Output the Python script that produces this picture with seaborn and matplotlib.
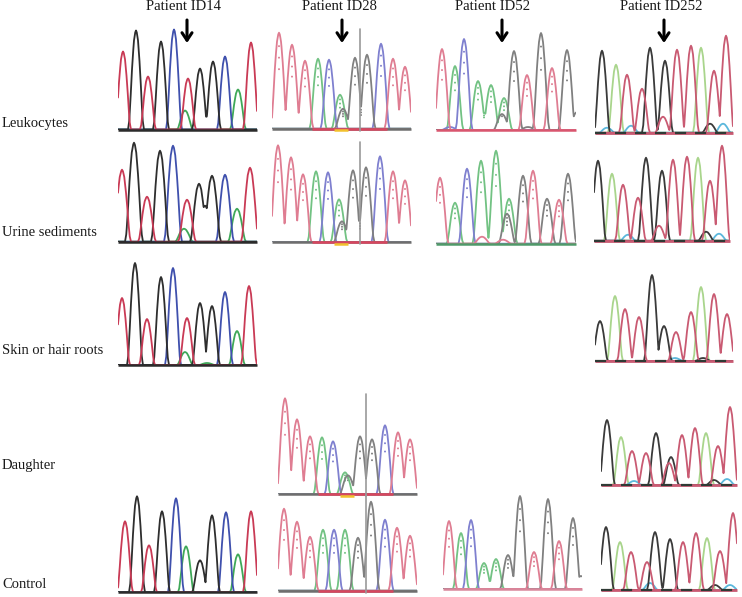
import numpy as np
import pandas as pd
import matplotlib
matplotlib.use("Agg")
import matplotlib.pyplot as plt
import seaborn as sns

# peak positions (scan offset), peak heights and called bases for every trace
ID14_LEUK_POS = [5, 18, 30, 43, 56, 70, 67, 82, 89, 95, 107, 120, 133]
ID14_LEUK_HT = [78, 99, 53, 88, 100, 51, 19, 61, 13, 68, 73, 40, 87]
ID14_LEUK_BASES = "TGTGCTAGGGCAT"

ID14_URINE_POS = [4, 16, 29, 42, 55, 69, 66, 81, 87, 94, 107, 119, 132]
ID14_URINE_HT = [72, 99, 45, 91, 96, 42, 13, 58, 36, 66, 67, 33, 74]
ID14_URINE_BASES = "TGTGCTAGGGCAT"

ID14_SKIN_POS = [4, 17, 29, 43, 55, 69, 67, 82, 88, 94, 107, 119, 131, 89]
ID14_SKIN_HT = [67, 102, 46, 88, 97, 47, 13, 62, 12, 59, 73, 34, 79, 2]
ID14_SKIN_BASES = "TGTGCTAGGGCATA"

ID14_CTRL_POS = [7, 19, 31, 44, 58, 68, 82, 94, 108, 120, 133]
ID14_CTRL_HT = [71, 96, 47, 81, 94, 46, 32, 77, 80, 38, 81]
ID14_CTRL_BASES = "TGTGCAGGCAT"

ID28_LEUK_POS = [7, 20, 33, 46, 57, 68, 71, 83, 89, 95, 109, 121, 133]
ID28_LEUK_HT = [96, 84, 68, 70, 69, 34, 20, 71, 22, 74, 85, 70, 62]
ID28_LEUK_BASES = "TTTACAGGGGCTT"

ID28_URINE_POS = [6, 19, 31, 44, 56, 67, 70, 81, 88, 94, 108, 121, 133]
ID28_URINE_HT = [97, 85, 68, 71, 70, 43, 21, 72, 22, 75, 86, 71, 62]
ID28_URINE_BASES = "TTTACAGGGGCTT"

ID28_DAUGHTER_POS = [7, 19, 32, 44, 55, 67, 70, 82, 88, 94, 107, 120, 132]
ID28_DAUGHTER_HT = [96, 75, 58, 57, 53, 22, 19, 58, 8, 55, 69, 62, 55]
ID28_DAUGHTER_BASES = "TTTACAGGGGCTT"

ID28_CTRL_POS = [6, 19, 32, 45, 56, 67, 80, 93, 107, 119, 132]
ID28_CTRL_HT = [82, 69, 54, 61, 61, 61, 53, 89, 71, 63, 55]
ID28_CTRL_BASES = "TTTACAGGCTT"

ID52_LEUK_POS = [6, 19, 28, 42, 48, 55, 68, 66, 78, 91, 105, 116, 131, 141, 14, 92]
ID52_LEUK_HT = [81, 64, 91, 49, 17, 45, 32, 16, 79, 55, 97, 62, 80, 18, 3, 3]
ID52_LEUK_BASES = "TACAAAAGGTGTGGCG"

ID52_URINE_POS = [4, 19, 31, 45, 60, 73, 71, 87, 97, 111, 123, 132, 46, 67]
ID52_URINE_HT = [66, 41, 75, 83, 93, 45, 30, 68, 73, 45, 44, 70, 7, 4]
ID52_URINE_BASES = "TACAAAGGTGTGTT"

ID52_CTRL_POS = [6, 18, 28, 41, 47, 53, 65, 71, 77, 91, 105, 116, 130, 138]
ID52_CTRL_HT = [68, 56, 69, 26, 8, 30, 34, 13, 93, 37, 90, 48, 71, 13]
ID52_CTRL_BASES = "TACAAAGGGTGTGG"

ID252_LEUK_POS = [7, 21, 32, 47, 55, 70, 68, 82, 96, 106, 119, 125, 131, 36, 115, 128, 12]
ID252_LEUK_HT = [82, 68, 58, 44, 85, 72, 16, 83, 87, 85, 62, 14, 97, 7, 9, 9, 5]
ID252_LEUK_BASES = "GATTGGTTTATTTCGCC"

ID252_URINE_POS = [4, 18, 29, 44, 52, 68, 65, 79, 93, 104, 116, 122, 128, 34, 112, 125]
ID252_URINE_HT = [80, 67, 56, 43, 83, 70, 15, 81, 84, 83, 60, 14, 95, 6, 9, 7]
ID252_URINE_BASES = "GATTGGTTTATTTCGC"

ID252_SKIN_POS = [5, 20, 30, 44, 57, 69, 81, 96, 106, 119, 132, 80, 108]
ID252_SKIN_HT = [40, 65, 52, 44, 86, 35, 29, 49, 74, 67, 47, 3, 3]
ID252_SKIN_BASES = "GATTGGTTATTCG"

ID252_DAUGHTER_POS = [6, 20, 31, 45, 55, 70, 68, 81, 94, 105, 117, 129, 33, 113, 126]
ID252_DAUGHTER_HT = [65, 48, 34, 32, 52, 28, 22, 50, 57, 52, 39, 78, 4, 5, 6]
ID252_DAUGHTER_BASES = "GATTGGTTTATTCGC"

ID252_CTRL_POS = [5, 19, 30, 46, 54, 69, 82, 95, 106, 119, 132, 49, 114, 129]
ID252_CTRL_HT = [63, 48, 38, 28, 58, 51, 48, 57, 52, 39, 77, 7, 5, 5]
ID252_CTRL_BASES = "GATTGGTTATTCGC"

PATIENTS = ["Patient ID14", "Patient ID28", "Patient ID52", "Patient ID252"]
SAMPLES = ["Leukocytes", "Urine sediments", "Skin or hair roots", "Daughter", "Control"]

# one peak, unit height, unit half width
PEAK_OFFSET = [-1, -.85, -.7, -.55, -.4, -.25, -.1, 0, .1, .25, .4, .55, .7, .85, 1]
PEAK_SHAPE = [0, .08, .28, .54, .74, .9, .98, 1, .98, .9, .74, .54, .28, .08, 0]

W, H = 742, 597
PAL_DARK = {"T": "#c93a55", "G": "#2e2e2e", "C": "#3f50ad", "A": "#3fa858"}
PAL_PALE = {"T": "#df7d92", "G": "#808080", "C": "#7f80cf", "A": "#72c283"}
PAL_SOFT = {"T": "#c95a72", "G": "#3a3a3a", "C": "#5bb8dc", "A": "#a9d58c"}

# trace, left, baseline px, width, half width, palette, baseline colour, cursor top
panels = [
    (ID14_LEUK_POS, ID14_LEUK_HT, ID14_LEUK_BASES, 118, 129.5, 139, 8, PAL_DARK, "#2b2b2b", None),
    (ID14_URINE_POS, ID14_URINE_HT, ID14_URINE_BASES, 118, 241.7, 139, 9, PAL_DARK, "#2b2b2b", None),
    (ID14_SKIN_POS, ID14_SKIN_HT, ID14_SKIN_BASES, 118, 365, 139, 8, PAL_DARK, "#2b2b2b", None),
    (ID14_CTRL_POS, ID14_CTRL_HT, ID14_CTRL_BASES, 118, 592.3, 139, 8, PAL_DARK, "#2b2b2b", None),
    (ID28_LEUK_POS, ID28_LEUK_HT, ID28_LEUK_BASES, 272, 128.7, 139, 8.5, PAL_PALE, "seq", 100),
    (ID28_URINE_POS, ID28_URINE_HT, ID28_URINE_BASES, 272, 242.3, 139, 8.5, PAL_PALE, "seq", 100),
    (ID28_DAUGHTER_POS, ID28_DAUGHTER_HT, ID28_DAUGHTER_BASES, 278, 494.3, 139, 8.5, PAL_PALE, "seq", 100),
    (ID28_CTRL_POS, ID28_CTRL_HT, ID28_CTRL_BASES, 278, 590.7, 139, 8.5, PAL_PALE, "red", 96),
    (ID52_LEUK_POS, ID52_LEUK_HT, ID52_LEUK_BASES, 436, 130, 140, 8.5, PAL_PALE, "#d9566f", None),
    (ID52_URINE_POS, ID52_URINE_HT, ID52_URINE_BASES, 436, 243.7, 140, 8.5, PAL_PALE, "#4f9a6a", None),
    (ID52_CTRL_POS, ID52_CTRL_HT, ID52_CTRL_BASES, 443, 589, 139, 8, PAL_PALE, "#d9869a", None),
    (ID252_LEUK_POS, ID252_LEUK_HT, ID252_LEUK_BASES, 595, 132.7, 138, 8, PAL_SOFT, "noise", None),
    (ID252_URINE_POS, ID252_URINE_HT, ID252_URINE_BASES, 594, 240.7, 136, 8, PAL_SOFT, "noise", None),
    (ID252_SKIN_POS, ID252_SKIN_HT, ID252_SKIN_BASES, 595, 361, 138, 8, PAL_SOFT, "noise", None),
    (ID252_DAUGHTER_POS, ID252_DAUGHTER_HT, ID252_DAUGHTER_BASES, 601, 485, 136, 8, PAL_SOFT, "noise", None),
    (ID252_CTRL_POS, ID252_CTRL_HT, ID252_CTRL_BASES, 601, 590, 136, 8, PAL_SOFT, "noise", None),
]


def base_traces(pos, ht, bases, width, half):
    # same-base peaks merge into one trace, like a real electropherogram channel
    grid = np.arange(0, width + .25, .25)
    rows = []
    for b in sorted(set(bases)):
        curves = [np.interp(grid, p + np.array(PEAK_OFFSET) * half, h * np.array(PEAK_SHAPE))
                  for p, h, c in zip(pos, ht, bases) if c == b]
        rows.append(pd.DataFrame({"scan": grid, "signal": np.max(curves, axis=0), "base": b}))
    return pd.concat(rows, ignore_index=True)


sns.set_theme(style="white")
plt.rcParams["font.family"] = ["Liberation Serif", "DejaVu Serif"]

fig = plt.figure(figsize=(W / 100, H / 100), dpi=100)

for pos, ht, bases, left, base_y, width, half, pal, base_col, cursor in panels:
    ax = fig.add_axes([left / W, 1 - base_y / H, width / W, 112 / H])
    ax.patch.set_alpha(0)
    df = base_traces(pos, ht, bases, width, half)
    sns.lineplot(data=df, x="scan", y="signal", hue="base", palette=pal,
                 estimator=None, sort=False, legend=False, linewidth=1.3, ax=ax)
    if pal is PAL_PALE:
        # dotted base-call marks inside the peaks
        dots = pd.DataFrame({"x": np.repeat(pos, 3),
                             "y": np.array([[h * .62, h * .74, h * .86] for h in ht]).ravel(),
                             "base": np.repeat(list(bases), 3)})
        dots = dots[dots["y"] > 12]
        sns.scatterplot(data=dots, x="x", y="y", hue="base", palette=pal, s=2,
                        linewidth=0, legend=False, ax=ax)
    if base_col in ("seq", "red"):
        ax.plot([0, width], [0, 0], color="#6e6e6e", lw=1.8, zorder=5, clip_on=False,
                solid_capstyle="butt")
        ax.plot([40, 115], [0, 0], color="#d9455f", lw=1.8, zorder=6, clip_on=False,
                solid_capstyle="butt")
        if base_col == "seq":
            ax.plot([62, 76], [-1.5, -1.5], color="#f2c12e", lw=1.8, zorder=6, clip_on=False,
                    solid_capstyle="butt")
    elif base_col == "noise":
        ax.plot([0, width], [0, 0], color="#c95a72", lw=2, zorder=5, clip_on=False,
                solid_capstyle="butt")
        ax.plot([0, width], [0, 0], color="#2f3a35", lw=1.6, zorder=6, clip_on=False,
                linestyle=(0, (5, 4)))
    else:
        ax.plot([0, width], [0, 0], color=base_col, lw=1.8, zorder=5, clip_on=False,
                solid_capstyle="butt")
    if cursor:
        ax.plot([88, 88], [-2, cursor], color="#9a9a9a", lw=1.2, zorder=7, clip_on=False)
    ax.set_xlim(0, width)
    ax.set_ylim(0, 112)
    ax.axis("off")

overlay = fig.add_axes([0, 0, 1, 1])
overlay.set_xlim(0, W)
overlay.set_ylim(H, 0)
overlay.patch.set_alpha(0)
overlay.axis("off")

for name, tx, ax_x in zip(PATIENTS, [184, 339, 493, 661], [187, 342, 502, 664]):
    overlay.text(tx, 7, name, ha="center", va="center", fontsize=10.6, color="#1a1a1a")
    overlay.annotate("", xy=(ax_x, 43), xytext=(ax_x, 20),
                     arrowprops=dict(arrowstyle="->,head_width=0.3,head_length=0.45",
                                     lw=2.2, color="black", shrinkA=0, shrinkB=0))

for name, ty in zip(SAMPLES, [124, 233, 351, 465, 584]):
    overlay.text(2, ty, name, ha="left", va="center", fontsize=10.5, color="#1a1a1a")

fig.savefig("out.png", dpi=100)
